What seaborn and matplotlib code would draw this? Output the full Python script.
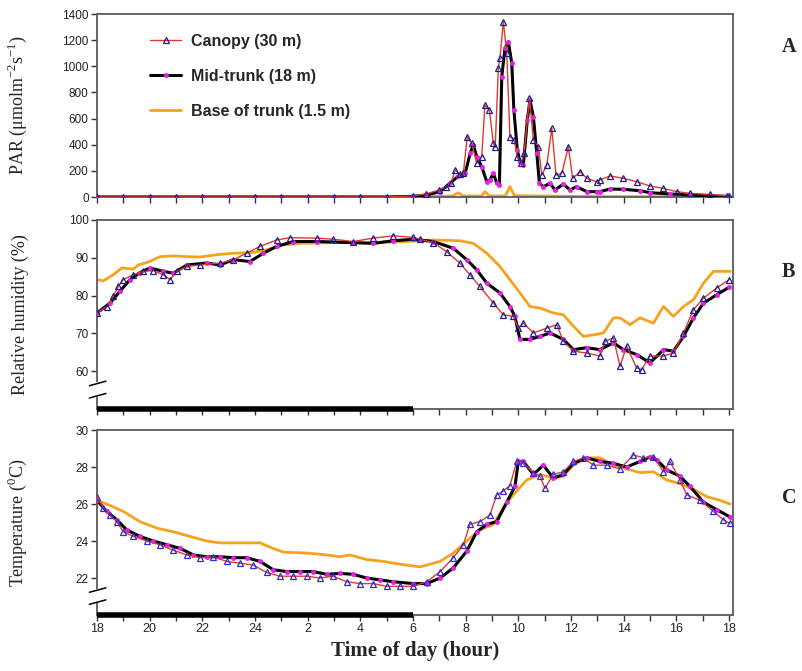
import matplotlib
matplotlib.use("Agg")
import matplotlib.pyplot as plt
import seaborn as sns
import numpy as np

# ---------------- data (time = hours elapsed since 18:00) ----------------
night = list(range(0, 12))

# Panel A: PAR
tA_can = night + [12.0, 12.5, 13.0, 13.25, 13.45, 13.59, 13.78, 13.91, 14.06, 14.23, 14.42,
                  14.61, 14.73, 14.9, 15.05, 15.12, 15.24, 15.3, 15.43, 15.56, 15.68, 15.84,
                  15.96, 16.09, 16.22, 16.42, 16.57, 16.76, 16.89, 17.08, 17.27, 17.43, 17.65,
                  17.9, 18.06, 18.34, 18.6, 18.97, 19.1, 19.48, 19.99, 20.49, 21.0, 21.5,
                  22.01, 22.52, 23.28, 23.91, 24.0]
A_can = [0] * 12 + [8, 23, 54, 79, 105, 207, 176, 181, 462, 410, 258,
                    309, 704, 666, 410, 380, 984, 1061, 1341, 1099, 462, 436,
                    309, 258, 334, 755, 436, 385, 168, 245, 525, 168, 181,
                    385, 143, 194, 143, 117, 130, 161, 143, 117, 84, 66,
                    41, 28, 20, 8, 5]

tA_mid = night + [12.0, 12.5, 13.03, 13.4, 13.72, 13.98, 14.17, 14.29, 14.42, 14.61, 14.8,
                  14.92, 15.05, 15.18, 15.28, 15.37, 15.49, 15.62, 15.75, 15.83, 15.96, 16.06,
                  16.19, 16.34, 16.44, 16.57, 16.7, 16.8, 16.95, 17.2, 17.39, 17.71, 17.96,
                  18.21, 18.6, 18.97, 19.1, 19.48, 19.99, 20.62, 21.0, 21.76, 22.52, 23.91, 24.0]
A_mid = [0] * 12 + [5, 15, 41, 105, 160, 181, 334, 398, 309, 232, 117,
                    130, 181, 105, 92, 920, 1137, 1188, 1023, 666, 360, 270,
                    245, 589, 742, 615, 334, 105, 79, 105, 54, 99, 54,
                    79, 41, 41, 41, 61, 59, 48, 33, 23, 15, 5, 3]

tA_base = night + [12.0, 13.0, 13.5, 13.72, 13.9, 14.6, 14.73, 14.9, 15.5, 15.68, 15.85,
                   17.0, 18.0, 20.0, 22.0, 24.0]
A_base = [0] * 12 + [3, 5, 8, 33, 8, 8, 41, 8, 8, 79, 10, 8, 5, 3, 2, 0]

# Panel B: relative humidity
tB_can = [0, 0.37, 0.62, 0.81, 1.0, 1.38, 1.76, 2.14, 2.52, 2.78, 3.03, 3.41, 3.91, 4.67,
          5.18, 5.68, 6.19, 6.82, 7.33, 8.34, 8.97, 9.73, 10.49, 11.25, 12.01, 12.27,
          12.77, 13.28, 13.78, 14.16, 14.54, 15.05, 15.43, 15.81, 16.0, 16.19, 16.57,
          17.08, 17.46, 17.71, 18.09, 18.59, 19.1, 19.29, 19.61, 19.86, 20.11, 20.49,
          20.68, 21.0, 21.51, 21.89, 22.27, 22.65, 23.03, 23.53, 24.0]
B_can = [75.4, 77.1, 79.8, 82.4, 84.2, 85.5, 86.4, 86.6, 85.5, 84.2, 86.4, 87.7, 88.1, 88.6,
         89.5, 91.2, 93.0, 94.7, 95.3, 95.2, 94.9, 94.3, 95.2, 95.8, 95.4, 94.9,
         94.0, 91.6, 88.6, 85.5, 82.4, 78.0, 74.9, 74.5, 71.4, 72.7, 70.1,
         71.4, 72.3, 67.9, 65.3, 64.8, 64.0, 67.9, 68.8, 61.3, 66.6, 60.9,
         60.4, 64.0, 64.0, 64.8, 70.1, 76.3, 79.3, 82.0, 84.2]

tB_mid = [0, 0.49, 0.87, 1.25, 1.63, 2.01, 2.52, 2.9, 3.41, 4.16, 4.67, 5.18, 5.81, 6.32,
          6.82, 7.46, 8.34, 9.73, 10.49, 11.25, 12.01, 12.27, 12.77, 13.53, 14.04, 14.42,
          14.8, 15.3, 15.68, 15.87, 16.06, 16.44, 16.82, 17.2, 17.71, 18.09, 18.59, 19.1,
          19.61, 19.99, 20.49, 21.0, 21.51, 21.89, 22.27, 22.65, 23.03, 23.53, 24.0]
B_mid = [75.4, 78.0, 81.1, 84.2, 86.1, 87.3, 86.4, 85.9, 88.1, 88.6, 88.1, 89.5, 89.0, 91.2,
         93.0, 94.3, 94.3, 94.0, 93.8, 94.5, 94.9, 94.7, 94.3, 92.5, 89.5, 86.8,
         83.3, 80.7, 77.1, 74.5, 68.4, 68.4, 69.2, 70.1, 68.4, 65.7, 66.2, 65.7,
         67.5, 65.7, 64.4, 62.2, 65.7, 65.3, 69.2, 74.1, 78.0, 80.2, 82.2]

tB_base = [0, 0.24, 0.62, 0.94, 1.38, 1.57, 2.01, 2.39, 2.9, 3.41, 3.91, 4.54, 5.18, 5.94,
           6.44, 7.08, 7.71, 8.97, 10.24, 11.5, 12.27, 12.77, 13.78, 14.29, 14.8, 15.3,
           15.68, 16.06, 16.44, 16.82, 17.33, 17.71, 18.09, 18.47, 18.85, 19.23, 19.61,
           19.86, 20.24, 20.62, 21.13, 21.51, 21.89, 22.27, 22.65, 23.03, 23.41, 24.04]
B_base = [84.2, 83.9, 85.5, 87.3, 87.0, 88.1, 89.0, 90.3, 90.5, 90.3, 90.2, 90.8, 91.2, 91.4,
          92.1, 93.4, 93.8, 94.0, 94.0, 94.2, 94.5, 94.7, 94.5, 93.8, 91.2, 87.7,
          84.2, 80.7, 77.1, 76.7, 75.4, 74.9, 71.9, 69.2, 69.6, 70.1, 74.1,
          74.1, 72.3, 74.1, 72.7, 77.1, 74.5, 77.1, 78.9, 83.3, 86.4, 86.4]

# Panel C: temperature
tC_can = [0, 0.24, 0.49, 0.75, 1.0, 1.38, 1.89, 2.39, 2.9, 3.41, 3.91, 4.42, 4.92, 5.43,
          5.94, 6.44, 6.95, 7.46, 7.96, 8.47, 8.97, 9.48, 9.99, 10.49, 11.0, 11.5, 12.01,
          12.52, 13.03, 13.53, 13.91, 14.16, 14.54, 14.92, 15.18, 15.43, 15.68, 15.94,
          16.19, 16.57, 16.82, 17.01, 17.33, 17.71, 18.09, 18.47, 18.85, 19.35, 19.86,
          20.37, 20.75, 21.13, 21.51, 21.76, 22.14, 22.39, 22.9, 23.41, 23.78, 24.04]
C_can = [26.4, 25.8, 25.4, 25.05, 24.5, 24.25, 24.0, 23.8, 23.5, 23.25, 23.1, 23.15, 22.9, 22.8,
         22.7, 22.3, 22.1, 22.1, 22.1, 22.0, 22.1, 21.8, 21.7, 21.7, 21.55, 21.55, 21.55,
         21.8, 22.35, 23.1, 23.8, 24.9, 25.05, 25.4, 26.5, 26.7, 27.0, 28.3,
         28.2, 27.7, 27.5, 26.85, 27.6, 27.75, 28.3, 28.5, 28.1, 28.1, 27.9,
         28.65, 28.5, 28.55, 27.75, 28.3, 27.3, 26.5, 26.2, 25.6, 25.15, 24.95]

tC_mid = [0, 0.37, 0.75, 1.13, 1.63, 2.14, 2.65, 3.16, 3.66, 4.16, 4.67, 5.18, 5.68, 6.19,
          6.69, 7.2, 7.71, 8.21, 8.72, 9.23, 9.73, 10.24, 10.75, 11.25, 12.01, 12.52,
          13.03, 13.53, 14.04, 14.42, 14.8, 15.18, 15.56, 15.87, 16.0, 16.19, 16.57,
          16.95, 17.33, 17.71, 18.09, 18.59, 19.1, 19.61, 20.11, 20.62, 21.0, 21.25,
          21.63, 22.14, 22.52, 23.03, 23.53, 24.04]
C_mid = [26.2, 25.6, 25.15, 24.6, 24.25, 24.0, 23.8, 23.6, 23.25, 23.15, 23.15, 23.1, 23.1, 22.9,
         22.45, 22.35, 22.35, 22.35, 22.2, 22.25, 22.2, 22.0, 21.9, 21.8, 21.7, 21.7,
         22.0, 22.55, 23.45, 24.5, 24.9, 25.05, 26.1, 26.95, 28.3, 28.3, 27.6,
         28.1, 27.4, 27.6, 28.2, 28.5, 28.3, 28.2, 28.0, 28.3, 28.55, 28.4,
         27.85, 27.5, 26.95, 26.1, 25.7, 25.3]

tC_base = [0, 0.37, 1.0, 1.63, 2.27, 2.9, 3.53, 4.16, 4.67, 5.43, 6.19, 6.69, 7.08, 7.96,
           8.72, 9.23, 9.6, 10.24, 10.87, 11.5, 12.27, 12.52, 13.03, 13.53, 14.04, 14.54,
           15.05, 15.43, 15.81, 16.32, 16.82, 17.33, 17.71, 18.09, 18.59, 19.1, 19.61,
           20.11, 20.62, 21.13, 21.63, 22.14, 22.65, 23.15, 23.66, 24.04]
C_base = [26.2, 26.0, 25.6, 25.05, 24.7, 24.5, 24.25, 24.0, 23.9, 23.9, 23.9, 23.6, 23.4, 23.35,
          23.25, 23.15, 23.25, 23.0, 22.9, 22.75, 22.6, 22.7, 22.9, 23.35, 24.0, 24.6,
          24.9, 25.8, 26.5, 27.3, 27.6, 27.4, 27.5, 28.1, 28.5, 28.5, 28.1,
          27.9, 27.7, 27.75, 27.3, 27.1, 26.8, 26.4, 26.2, 26.0]

series_labels = ["Canopy (30 m)", "Mid-trunk (18 m)", "Base of trunk (1.5 m)"]
panel_letters = ["A", "B", "C"]
x_major = list(range(0, 25, 2))
x_tick_labels = ["18", "20", "22", "24", "2", "4", "6", "8", "10", "12", "14", "16", "18"]
night_span = (0, 12)

# ---------------- style ----------------
sns.set_style("white")
plt.rcParams["font.family"] = ["Liberation Sans", "DejaVu Sans"]
plt.rcParams["mathtext.fontset"] = "custom"
plt.rcParams["mathtext.rm"] = "Liberation Serif"

RED = "#e0392f"
MAG = "#e61ee6"
ORANGE = "#f5a21e"
SPINE = "#5a5a5a"

fig = plt.figure(figsize=(8.03, 6.71), dpi=100)
axA = fig.add_axes([0.1208, 0.7064, 0.7920, 0.2727])
axB = fig.add_axes([0.1208, 0.3905, 0.7920, 0.2817])
axC = fig.add_axes([0.1208, 0.0834, 0.7920, 0.2757])


def draw(ax, t_can, y_can, t_mid, y_mid, t_base, y_base, tri_color, legend=False):
    sns.lineplot(x=t_mid, y=y_mid, ax=ax, color="black", lw=2.2, marker="o", ms=3,
                 mfc=MAG, mec=MAG, mew=0.5, estimator=None, sort=False,
                 label=series_labels[1] if legend else None, zorder=3)
    sns.lineplot(x=t_can, y=y_can, ax=ax, color=RED, lw=1.0, marker="^", ms=4.5,
                 mfc="none", mec=tri_color, mew=0.9, estimator=None, sort=False,
                 label=series_labels[0] if legend else None, zorder=4)
    sns.lineplot(x=t_base, y=y_base, ax=ax, color=ORANGE, lw=2.0, estimator=None,
                 sort=False, label=series_labels[2] if legend else None, zorder=2)


draw(axA, tA_can, A_can, tA_mid, A_mid, tA_base, A_base, "#1e1e88", legend=True)
draw(axB, tB_can, B_can, tB_mid, B_mid, tB_base, B_base, "#1e1e90")
draw(axC, tC_can, C_can, tC_mid, C_mid, tC_base, C_base, "#2b2bdc")

axA.set_ylim(0, 1400)
axA.set_yticks(range(0, 1401, 200))
axB.set_ylim(50, 100)
axB.set_yticks([60, 70, 80, 90, 100])
axC.set_ylim(20, 30)
axC.set_yticks([22, 24, 26, 28, 30])

for ax in (axA, axB, axC):
    ax.set_xlim(0, 24.15)
    ax.set_xticks(x_major)
    ax.set_xticks(range(0, 25), minor=True)
    ax.tick_params(axis="both", which="both", direction="out", length=4, width=1,
                   color="#333333", labelsize=8.5, labelcolor="#222222", pad=2)
    ax.tick_params(axis="x", which="both", bottom=True, length=4)
    ax.tick_params(axis="y", left=True)
    for s in ax.spines.values():
        s.set_color(SPINE)
        s.set_linewidth(1.3)
    ax.set_xlabel("")
    ax.set_ylabel("")

axA.set_xticklabels([])
axB.set_xticklabels([])
axC.set_xticklabels(x_tick_labels, fontsize=9)

# night bar and axis breaks on B and C
for ax in (axB, axC):
    y0 = ax.get_ylim()[0]
    ax.plot(night_span, [y0, y0], color="black", lw=4, solid_capstyle="butt",
            clip_on=False, zorder=5)
    tr = ax.transAxes
    ax.plot([0, 0], [0.075, 0.13], transform=tr, color="white", lw=3, clip_on=False, zorder=6)
    for yb in (0.07, 0.135):
        ax.plot([-0.012, 0.014], [yb - 0.012, yb + 0.012], transform=tr, color="black",
                lw=1.1, clip_on=False, zorder=7)

serif = ["Liberation Serif", "DejaVu Serif"]
axA.set_ylabel("PAR (μmolm$^{\\mathregular{-2}}$s$^{\\mathregular{-1}}$)", family=serif,
               fontsize=13, labelpad=6)
axB.set_ylabel("Relative humidity (%)", family=serif, fontsize=13, labelpad=8)
axC.set_ylabel("Temperature ($^{\\mathregular{0}}$C)", family=serif, fontsize=13, labelpad=8)
for ax in (axA, axB, axC):
    ax.yaxis.set_label_coords(-0.107, 0.5)
axC.set_xlabel("Time of day (hour)", family=serif, fontsize=15, fontweight="bold", labelpad=4)

handles, labels = axA.get_legend_handles_labels()
order = [labels.index(s) for s in series_labels]
leg = axA.legend([handles[i] for i in order], [labels[i] for i in order],
                 loc="upper left", bbox_to_anchor=(0.06, 0.97), frameon=False,
                 handlelength=2.0, handletextpad=0.6, labelspacing=1.25,
                 prop={"family": "Liberation Sans", "weight": "bold", "size": 11.5})

for ax, letter, yy in ((axA, panel_letters[0], 0.82), (axB, panel_letters[1], 0.725),
                       (axC, panel_letters[2], 0.632)):
    ax.text(1.077, yy, letter, transform=ax.transAxes,
            family=serif, fontsize=14.5, fontweight="bold", ha="left", va="center")

fig.savefig("out.png", dpi=100)
